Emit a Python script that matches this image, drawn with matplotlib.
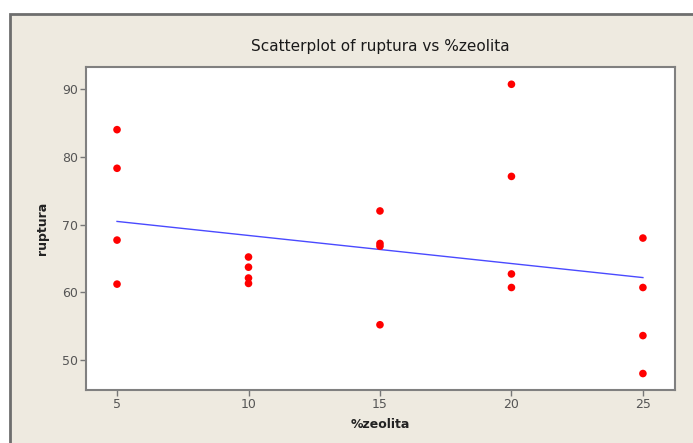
import numpy as np
import matplotlib
matplotlib.use("Agg")
import matplotlib.pyplot as plt
from matplotlib.patches import Rectangle

# zeolite content (%) and rupture values, four specimens per level
zeolita = [5, 5, 5, 5,
           10, 10, 10, 10,
           15, 15, 15, 15,
           20, 20, 20, 20,
           25, 25, 25, 25]
ruptura = [84.0, 78.3, 67.7, 61.2,
           65.2, 63.7, 62.1, 61.3,
           72.0, 67.2, 66.8, 55.2,
           90.7, 77.1, 62.7, 60.7,
           68.0, 60.7, 53.6, 48.0]
x_ticks = [5, 10, 15, 20, 25]
y_ticks = [50, 60, 70, 80, 90]

W, H = 693, 443
panel = "#eeeae0"
tick_grey = "#555555"

plt.rcParams['font.family'] = ['DejaVu Sans']
fig = plt.figure(figsize=(W / 100, H / 100), dpi=100, facecolor="white")

# beige graph window with its dark frame
fig.add_artist(Rectangle((10 / W, -0.05), 1.1, (H - 14) / H + 0.05,
                         transform=fig.transFigure, facecolor=panel,
                         edgecolor="#6e6e6e", linewidth=2, zorder=0))

ax = fig.add_axes([86 / W, (H - 390) / H, (675 - 86) / W, (390 - 67) / H])
ax.set_facecolor("white")

x = np.array(zeolita, dtype=float)
y = np.array(ruptura, dtype=float)
slope, intercept = np.polyfit(x, y, 1)
xx = np.array([min(x), max(x)])
ax.plot(xx, intercept + slope * xx, color="#4a4aff", linewidth=1.0, zorder=2)
ax.scatter(x, y, s=30, color="red", edgecolors="none", zorder=3)

ax.set_xlim(3.82, 26.22)
ax.set_ylim(45.57, 93.25)
ax.set_xticks(x_ticks)
ax.set_yticks(y_ticks)
ax.tick_params(direction="out", length=4, width=1, color="#777777",
               labelcolor=tick_grey, labelsize=9, pad=2)
for s in ax.spines.values():
    s.set_color("#808080")
    s.set_linewidth(1.5)

ax.set_xlabel("%zeolita", fontsize=9, fontweight="bold", color="#222222", labelpad=5)
ax.set_ylabel("ruptura", fontsize=9, fontweight="bold", color="#222222", labelpad=9)
fig.text((86 + 675) / 2 / W, 1 - 47 / H, "Scatterplot of ruptura vs %zeolita",
         ha="center", va="center", fontsize=11, color="#1a1a1a")

fig.savefig("out.png", dpi=100, facecolor=fig.get_facecolor())
